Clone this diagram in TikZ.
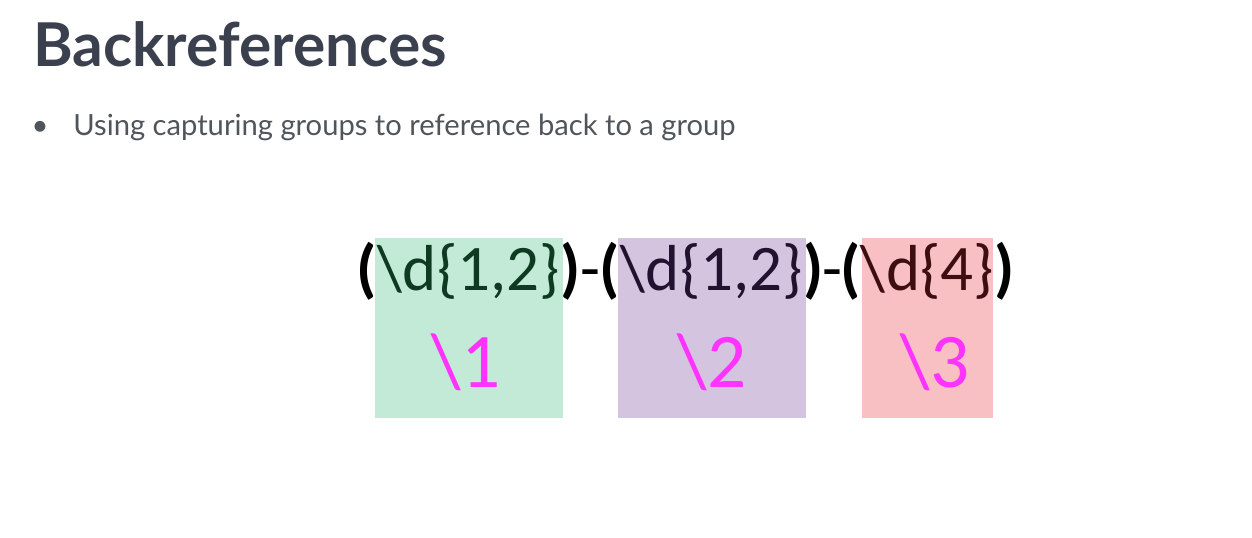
\documentclass[tikz,border=0pt]{standalone}
\usepackage{fontspec}
\setmainfont{Lato}
\newfontfamily\regexfont{Carlito}
\usetikzlibrary{positioning,calc}

\definecolor{titlegray}{HTML}{3B404F}
\definecolor{bulletgray}{HTML}{50555C}
\definecolor{boxgreen}{HTML}{C3E9D7}
\definecolor{boxpurple}{HTML}{D4C4DF}
\definecolor{boxpink}{HTML}{F8C0C2}
\definecolor{txtgreen}{HTML}{0F3A22}
\definecolor{txtpurple}{HTML}{201230}
\definecolor{txtred}{HTML}{3D0D10}
\definecolor{refmagenta}{HTML}{FF33FF}

\begin{document}
\begin{tikzpicture}[x=0.02cm, y=-0.02cm,
    groupbox/.style={minimum height=3.6cm, inner sep=0pt, draw=none},
    grouptext/.style={inner sep=0pt, font=\regexfont\fontsize{37}{40}\selectfont},
    paren/.style={inner sep=0pt, font=\regexfont\bfseries\fontsize{37}{40}\selectfont},
    reflabel/.style={inner sep=0pt, text=refmagenta, font=\regexfont\fontsize{44}{48}\selectfont}]
    \useasboundingbox (0,0) rectangle (1252,538);

    % Title and bullet
    \node[anchor=base west, inner sep=0pt, text=titlegray, font=\bfseries\fontsize{34.4}{40}\selectfont] (title) at (33,66) {Backreferences};
    \node[anchor=base, inner sep=0pt, text=bulletgray, font=\fontsize{16.6}{20}\selectfont] (dot) at (40,135) {\textbullet};
    \node[anchor=base west, inner sep=0pt, text=bulletgray, font=\fontsize{16.6}{20}\selectfont] (bullet) at (73,135) {Using capturing groups to reference back to a group};

    % Group boxes
    \node[groupbox, fill=boxgreen, minimum width=3.76cm] (box1) at (469,328) {};
    \node[groupbox, fill=boxpurple, minimum width=3.76cm] (box2) at (712,328) {};
    \node[groupbox, fill=boxpink, minimum width=2.62cm] (box3) at (927.5,328) {};

    % Group 1
    \node[grouptext, text=txtgreen, anchor=base] (grp1) at (469,290) {\textbackslash d\{1,2\}};
    \node[paren, anchor=base east] (open1) at (grp1.base west) {(};
    \node[paren, anchor=base west] (close1) at (grp1.base east) {)};

    % Group 2
    \node[grouptext, text=txtpurple, anchor=base] (grp2) at (712,290) {\textbackslash d\{1,2\}};
    \node[paren, anchor=base east] (open2) at (grp2.base west) {(};
    \node[paren, anchor=base west] (close2) at (grp2.base east) {)};

    % Group 3
    \node[grouptext, text=txtred, anchor=base] (grp3) at (927.5,290) {\textbackslash d\{4\}};
    \node[paren, anchor=base east] (open3) at (grp3.base west) {(};
    \node[paren, anchor=base west] (close3) at (grp3.base east) {)};

    % Dashes
    \node[grouptext, anchor=base] (dash1) at ($(close1.base east)!0.5!(open2.base west)$) {-};
    \node[grouptext, anchor=base] (dash2) at ($(close2.base east)!0.5!(open3.base west)$) {-};

    % Backreferences
    \node[reflabel] (ref1) at (466,362) {\textbackslash 1};
    \node[reflabel] (ref2) at (712,362) {\textbackslash 2};
    \node[reflabel] (ref3) at (935,362) {\textbackslash 3};
\end{tikzpicture}
\end{document}
